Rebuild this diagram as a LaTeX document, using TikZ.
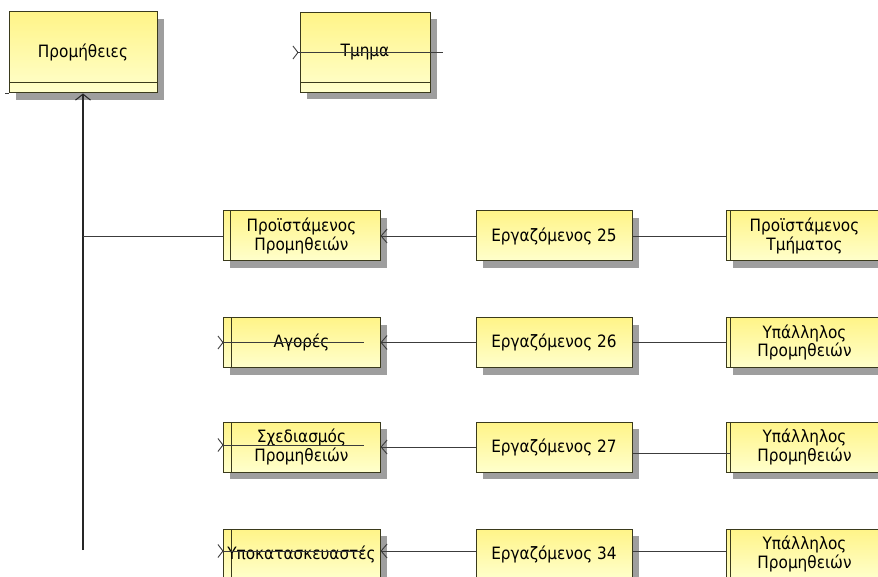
\documentclass[tikz,border=0pt]{standalone}
\usepackage{fontspec}
\setmainfont{DejaVu Sans Condensed}
\usetikzlibrary{positioning,arrows.meta,shadows}
\definecolor{boxtop}{HTML}{FFF488}
\definecolor{boxbot}{HTML}{FFFFCC}
\definecolor{boxedge}{HTML}{3A3A1C}
\definecolor{wire}{HTML}{3C3C3C}
\definecolor{shade}{HTML}{9E9E9E}
\tikzset{
  entity/.style={draw=boxedge, line width=1pt, top color=boxtop, bottom color=boxbot, drop shadow={shadow xshift=7pt, shadow yshift=-7pt, fill=shade, opacity=1}, align=center, inner sep=2pt, font=\fontsize{17}{15.5}\selectfont},
  unitbox/.style={entity, minimum width=157pt, minimum height=50pt},
  staffbox/.style={entity, minimum width=156pt, minimum height=50pt},
  sidebar/.style={path picture={\draw[boxedge, line width=1pt] ([xshift=#1]path picture bounding box.north west) -- ([xshift=#1]path picture bounding box.south west);}},
  footbar/.style={path picture={\draw[boxedge, line width=1pt] ([yshift=#1]path picture bounding box.south west) -- ([yshift=#1]path picture bounding box.south east);}},
  wireline/.style={draw=wire, line width=0.9pt},
  linkarrow/.style={wireline, -{Straight Barb[length=6pt,width=14pt,line width=0.9pt]}},
  selfarrow/.style={wireline, {Straight Barb[reversed,length=5pt,width=13pt,line width=0.9pt]}-},
  trunkarrow/.style={draw=black!85, line width=1.6pt, -{Straight Barb[length=6pt,width=15pt,line width=1pt]}}
}
\begin{document}
\begin{tikzpicture}[x=1pt, y=-1pt, node distance=95pt and 95pt]
  \useasboundingbox (0,0) rectangle (878,577);
  \node[entity, footbar=10pt, minimum width=148pt, minimum height=81pt] (prom) at (83,52.5) {Προμήθειες};
  \node[entity, footbar=10pt, minimum width=130pt, minimum height=80pt] (tmima) at (365,52.5) {Τμημα};

  \node[unitbox, sidebar=7pt] (proist) at (301.5,236) {Προϊστάμενος\\Προμηθειών};
  \node[staffbox, right=95pt of proist] (erg25) {Εργαζόμενος 25};
  \node[unitbox, sidebar=4pt, right=93pt of erg25] (proisttm) {Προϊστάμενος\\Τμήματος};

  \node[unitbox, sidebar=8pt] (agores) at (301.5,342.5) {Αγορές};
  \node[staffbox, right=95pt of agores] (erg26) {Εργαζόμενος 26};
  \node[unitbox, sidebar=4pt, right=93pt of erg26] (ypal26) {Υπάλληλος\\Προμηθειών};

  \node[unitbox, sidebar=8pt] (sxed) at (301.5,447) {Σχεδιασμός\\Προμηθειών};
  \node[staffbox, right=95pt of sxed] (erg27) {Εργαζόμενος 27};
  \node[unitbox, sidebar=4pt, right=93pt of erg27] (ypal27) {Υπάλληλος\\Προμηθειών};

  \node[unitbox, sidebar=8pt] (ypok) at (301.5,554) {Υποκατασκευαστές};
  \node[staffbox, right=95pt of ypok] (erg34) {Εργαζόμενος 34};
  \node[unitbox, sidebar=4pt, right=93pt of erg34] (ypal34) {Υπάλληλος\\Προμηθειών};

  \coordinate (trunkend) at (83,550);
  \draw[trunkarrow] (trunkend) -- (prom.south);
  \draw[wireline] (prom.south west) -- ++(-4,0);
  \draw[wireline] (trunkend |- proist) -- (proist.west);

  \draw[selfarrow] ([xshift=-7pt]tmima.west) -- ([xshift=12pt]tmima.east);
  \draw[selfarrow] ([xshift=-5pt]agores.west) -- ([xshift=-17pt]agores.east);
  \draw[selfarrow] ([xshift=-5pt,yshift=2pt]sxed.west) -- ([xshift=-17pt,yshift=2pt]sxed.east);
  \draw[selfarrow] ([xshift=-5pt,yshift=3pt]ypok.west) -- ([xshift=-17pt,yshift=3pt]ypok.east);

  \draw[linkarrow] (erg25) -- (proist);
  \draw[wireline] (erg25) -- (proisttm);
  \draw[linkarrow] (erg26) -- (agores);
  \draw[wireline] (erg26) -- (ypal26);
  \draw[linkarrow] (erg27) -- (sxed);
  \draw[wireline] ([yshift=-6pt]erg27.east) -- ([yshift=-6pt,xshift=4pt]ypal27.west);
  \draw[linkarrow] ([yshift=3pt]erg34.west) -- ([yshift=3pt]ypok.east);
  \draw[wireline] ([yshift=3pt]erg34.east) -- ([yshift=3pt]ypal34.west);
\end{tikzpicture}
\end{document}
